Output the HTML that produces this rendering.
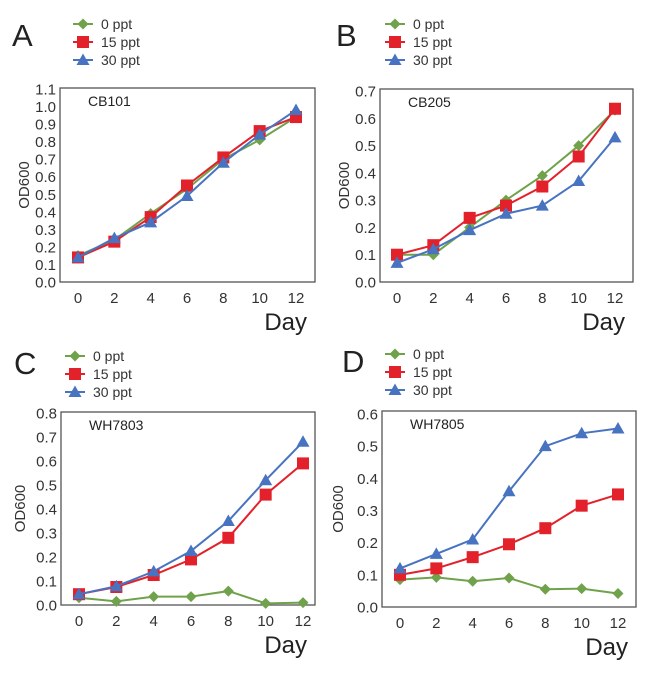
<!DOCTYPE html>
<html><head><meta charset="utf-8">
<style>
html,body{margin:0;padding:0;background:#fff;}
svg{display:block;font-family:"Liberation Sans",Arial,sans-serif;}
</style></head>
<body>
<svg id="fig" width="653" height="674" viewBox="0 0 653 674" xmlns="http://www.w3.org/2000/svg"></svg>
<script>
const days = [0, 2, 4, 6, 8, 10, 12];
const seriesNames = ["0 ppt", "15 ppt", "30 ppt"];
const aStrain = "CB101";
const a0 = [0.15, 0.24, 0.39, 0.53, 0.70, 0.81, 0.94];
const a15 = [0.14, 0.23, 0.37, 0.55, 0.71, 0.86, 0.94];
const a30 = [0.14, 0.25, 0.34, 0.49, 0.68, 0.84, 0.98];
const aTicks = ["0.0","0.1","0.2","0.3","0.4","0.5","0.6","0.7","0.8","0.9","1.0","1.1"];
const bStrain = "CB205";
const b0 = [0.10, 0.10, 0.20, 0.30, 0.39, 0.50, 0.63];
const b15 = [0.10, 0.135, 0.235, 0.28, 0.35, 0.46, 0.635];
const b30 = [0.07, 0.12, 0.19, 0.25, 0.28, 0.37, 0.53];
const bTicks = ["0.0","0.1","0.2","0.3","0.4","0.5","0.6","0.7"];
const cStrain = "WH7803";
const c0 = [0.03, 0.015, 0.035, 0.035, 0.058, 0.007, 0.01];
const c15 = [0.045, 0.075, 0.125, 0.19, 0.28, 0.46, 0.59];
const c30 = [0.045, 0.078, 0.14, 0.225, 0.35, 0.52, 0.68];
const cTicks = ["0.0","0.1","0.2","0.3","0.4","0.5","0.6","0.7","0.8"];
const dStrain = "WH7805";
const d0 = [0.085, 0.092, 0.08, 0.09, 0.055, 0.057, 0.042];
const d15 = [0.10, 0.12, 0.155, 0.195, 0.245, 0.315, 0.35];
const d30 = [0.12, 0.165, 0.21, 0.36, 0.50, 0.54, 0.555];
const dTicks = ["0.0","0.1","0.2","0.3","0.4","0.5","0.6"];

const NS = "http://www.w3.org/2000/svg";
const svg = document.getElementById("fig");
const COLORS = ["#6fa24a", "#e3212b", "#4873c0"];
function mk(tag, attrs, parent) {
  const e = document.createElementNS(NS, tag);
  for (const k in attrs) e.setAttribute(k, attrs[k]);
  (parent || svg).appendChild(e);
  return e;
}
function marker(g, kind, x, y, color) {
  let m;
  if (kind === 0) m = mk("polygon", {points: `${x},${y-5.5} ${x+5.5},${y} ${x},${y+5.5} ${x-5.5},${y}`, fill: color}, g);
  else if (kind === 1) m = mk("rect", {x: x-6, y: y-6, width: 12, height: 12, fill: color}, g);
  else m = mk("polygon", {points: `${x},${y-6.5} ${x+6.5},${y+5} ${x-6.5},${y+5}`, fill: color}, g);
  return m;
}
function panel(cfg) {
  const g = mk("g", {});
  
  
  const ymax = parseFloat(cfg.ticks[cfg.ticks.length-1]);
  const xs = d => cfg.x0 + (d - days[0]) / (days[days.length-1] - days[0]) * (cfg.x12 - cfg.x0);
  const ys = v => cfg.yb - v / ymax * (cfg.yb - cfg.yt);
  const L = mk("text", {x: cfg.lx, y: cfg.ly, "font-size": 31, fill: "#222"}, g);
  L.textContent = cfg.letter;
  
  
  // legend
  seriesNames.forEach((n, i) => {
    const lg = mk("g", {}, g);
    
    
    const y = cfg.legY + i * 18;
    mk("line", {x1: cfg.legX, x2: cfg.legX + 20, y1: y, y2: y, stroke: COLORS[i], "stroke-width": 2}, lg);
    marker(lg, i, cfg.legX + 10, y, COLORS[i]);
    const t = mk("text", {x: cfg.legX + 28, y: y + 5, "font-size": 14, fill: "#333"}, lg);
    t.textContent = n;
  });
  // box
  const box = mk("rect", {x: cfg.bx1, y: cfg.by1, width: cfg.bx2 - cfg.bx1, height: cfg.yb - cfg.by1, fill: "none", stroke: "#555", "stroke-width": 1.3}, g);
  
  
  // y ticks
  cfg.ticks.forEach(t => {
    const y = ys(parseFloat(t));
    const tx = mk("text", {x: cfg.bx1 - 4, y: y + 5.5, "font-size": 15, fill: "#333", "text-anchor": "end"}, g);
    tx.textContent = t;
    
    
  });
  days.forEach(d => {
    const tx = mk("text", {x: xs(d), y: cfg.yb + 21, "font-size": 15, fill: "#333", "text-anchor": "middle"}, g);
    tx.textContent = d;
    
    
  });
  const yl = mk("text", {x: 0, y: 0, "font-size": 15, fill: "#333", "text-anchor": "middle", transform: `translate(${cfg.ylx},${(cfg.by1 + cfg.yb)/2}) rotate(-90)`}, g);
  yl.textContent = "OD600";
  
  
  const xl = mk("text", {x: cfg.bx2 - 8, y: cfg.yb + 48, "font-size": 24, fill: "#222", "text-anchor": "end"}, g);
  xl.textContent = "Day";
  
  
  const st = mk("text", {x: cfg.bx1 + 28, y: cfg.by1 + 18, "font-size": 14, fill: "#222"}, g);
  st.textContent = cfg.strain;
  
  
  cfg.series.forEach((vals, i) => {
    const sg = mk("g", {}, g);
    
    
    mk("polyline", {points: vals.map((v, j) => xs(days[j]) + "," + ys(v)).join(" "), fill: "none", stroke: COLORS[i], "stroke-width": 2}, sg);
    vals.forEach((v, j) => {
      const m = marker(sg, i, xs(days[j]), ys(v), COLORS[i]);
      
      
    });
  });
}
panel({letter:"A", lx:12, ly:46, legX:73, legY:24, bx1:60, bx2:315, by1:88, yb:282, yt:89, x0:78, x12:296, ylx:29, ticks:aTicks, strain:aStrain, series:[a0,a15,a30]});
panel({letter:"B", lx:336, ly:46, legX:385, legY:24, bx1:380, bx2:633, by1:89, yb:282, yt:91, x0:397, x12:615, ylx:349, ticks:bTicks, strain:bStrain, series:[b0,b15,b30]});
panel({letter:"C", lx:14, ly:374, legX:65, legY:356, bx1:61, bx2:315, by1:412, yb:605, yt:413, x0:79, x12:303, ylx:25, ticks:cTicks, strain:cStrain, series:[c0,c15,c30]});
panel({letter:"D", lx:342, ly:372, legX:385, legY:354, bx1:382, bx2:636, by1:411, yb:607, yt:414, x0:400, x12:618, ylx:343, ticks:dTicks, strain:dStrain, series:[d0,d15,d30]});
</script>
</body></html>
